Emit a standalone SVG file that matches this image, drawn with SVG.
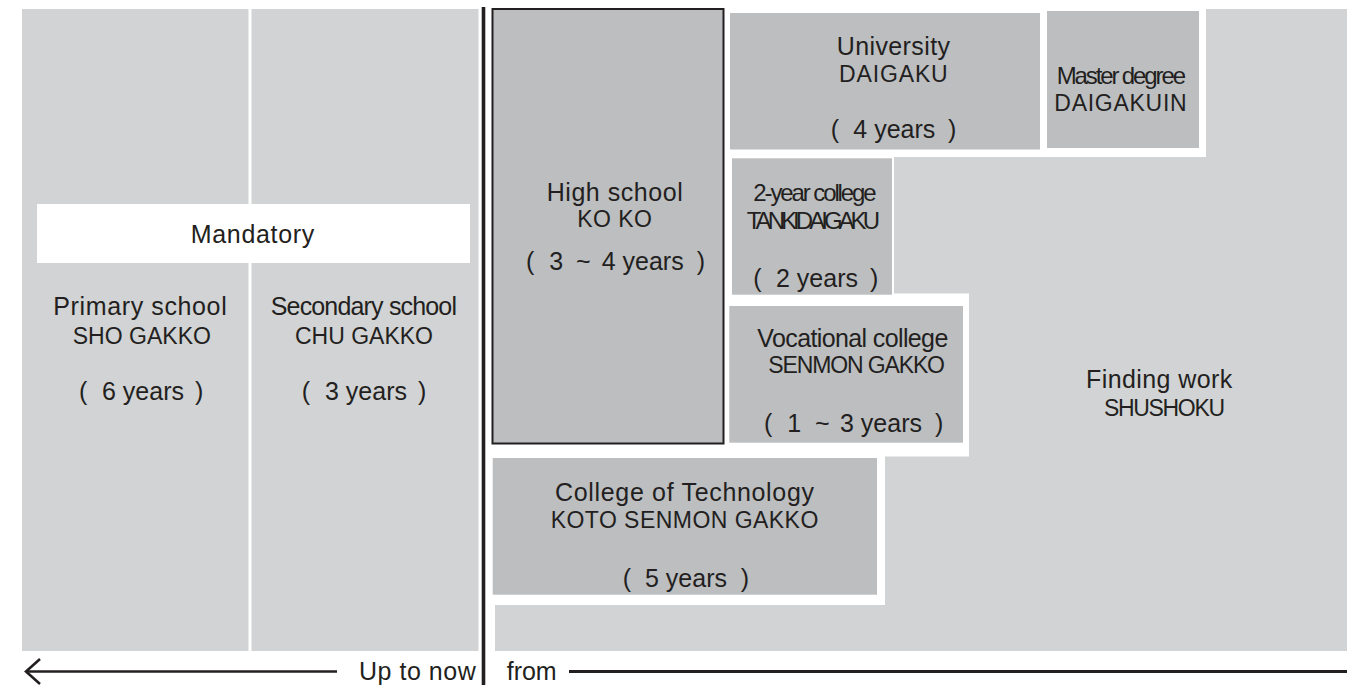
<svg xmlns="http://www.w3.org/2000/svg" width="1347" height="685" viewBox="0 0 1347 685">
<style>
.bgl{fill:#d1d3d4}
.box{fill:#bcbec0}
.t{font-family:"Liberation Sans",Arial,sans-serif;fill:#231f20;font-size:25px}
.s{font-size:23px}
.c{font-size:24px}
.ln{stroke:#231f20;fill:none}
</style>
<rect width="1347" height="685" fill="#ffffff"/>
<g id="mandatory-area">
<rect class="bgl" x="22" y="9" width="226.5" height="642"/>
<rect class="bgl" x="251.5" y="9" width="227" height="642"/>
</g>
<g id="background-right">
<polygon class="bgl" points="1206,9 1347,9 1347,651 495,651 495,605 885,605 885,456.5 969,456.5 969,293.5 894,293.5 894,157 1206,157"/>
</g>
<g id="mandatory">
<rect x="37" y="204" width="433" height="59" fill="#ffffff"/>
<text class="t" x="190.7" y="243" textLength="123.6">Mandatory</text>
</g>
<g id="primary">
<text class="t" x="53.3" y="315" textLength="173.4">Primary school</text>
<text class="t s" x="72.7" y="344" textLength="138.3">SHO GAKKO</text>
<text class="t" y="400"><tspan x="79">(</tspan><tspan x="102">6 years</tspan><tspan x="195">)</tspan></text>
</g>
<g id="secondary">
<text class="t" x="270.7" y="315" textLength="186.3">Secondary school</text>
<text class="t s" x="295" y="344" textLength="138">CHU GAKKO</text>
<text class="t" y="400"><tspan x="301.7">(</tspan><tspan x="325">3 years</tspan><tspan x="418">)</tspan></text>
</g>
<g id="high-school">
<rect x="492.5" y="9" width="231" height="434.5" fill="#bcbec0" stroke="#231f20" stroke-width="2"/>
<text class="t" x="546.7" y="200.7" textLength="136">High school</text>
<text class="t s" x="577.3" y="226.7" textLength="74.7">KO KO</text>
<text class="t" y="270"><tspan x="526">(</tspan><tspan x="549.3">3</tspan><tspan x="576">~</tspan><tspan x="601.7">4 years</tspan><tspan x="696.7">)</tspan></text>
</g>
<g id="university">
<rect class="box" x="730" y="13" width="310" height="136.5"/>
<text class="t" x="836.7" y="55" textLength="113.3">University</text>
<text class="t s" x="839" y="81.7" textLength="108.7">DAIGAKU</text>
<text class="t" y="138"><tspan x="830.7">(</tspan><tspan x="853.3">4 years</tspan><tspan x="948">)</tspan></text>
</g>
<g id="master">
<rect class="box" x="1047" y="11" width="152" height="137"/>
<text class="t c" x="1056.7" y="84.3" textLength="129.3">Master degree</text>
<text class="t s" x="1054.3" y="111" textLength="132.4">DAIGAKUIN</text>
</g>
<g id="two-year-college">
<rect class="box" x="732" y="158.3" width="160" height="136.4"/>
<text class="t c" x="753.3" y="201" textLength="123.4">2-year college</text>
<text class="t c" x="746.7" y="228.7" textLength="133.3">TANKIDAIGAKU</text>
<text class="t" y="286.7"><tspan x="753.3">(</tspan><tspan x="776">2 years</tspan><tspan x="870">)</tspan></text>
</g>
<g id="vocational-college">
<rect class="box" x="729.3" y="306" width="233.7" height="136.7"/>
<text class="t" x="757.3" y="346.7" textLength="191">Vocational college</text>
<text class="t s" x="768.3" y="373.3" textLength="176.7">SENMON GAKKO</text>
<text class="t" y="431.7"><tspan x="764">(</tspan><tspan x="787.3">1</tspan><tspan x="815">~</tspan><tspan x="840">3 years</tspan><tspan x="935">)</tspan></text>
</g>
<g id="college-of-technology">
<rect class="box" x="492.7" y="458" width="384.3" height="136.7"/>
<text class="t" x="555" y="501" textLength="259">College of Technology</text>
<text class="t s" x="550.7" y="528.3" textLength="267.6">KOTO SENMON GAKKO</text>
<text class="t" y="586.7"><tspan x="622.7">(</tspan><tspan x="645">5 years</tspan><tspan x="740.7">)</tspan></text>
</g>
<g id="finding-work">
<text class="t" x="1086" y="388.3" textLength="146.3">Finding work</text>
<text class="t s" x="1104" y="416" textLength="121">SHUSHOKU</text>
</g>
<g id="divider">
<line class="ln" x1="483.5" y1="7" x2="483.5" y2="685" stroke-width="3.6"/>
</g>
<g id="connectors">
<line class="ln" x1="26" y1="671.5" x2="337" y2="671.5" stroke-width="2.5"/>
<polyline class="ln" points="40,659 26,671.5 40,684" stroke-width="2.6"/>
<line class="ln" x1="569" y1="671.5" x2="1347" y2="671.5" stroke-width="3"/>
</g>
<g id="timeline-labels">
<text class="t" x="359" y="680" textLength="116.7">Up to now</text>
<text class="t" x="506.7" y="680" textLength="50">from</text>
</g>
</svg>
